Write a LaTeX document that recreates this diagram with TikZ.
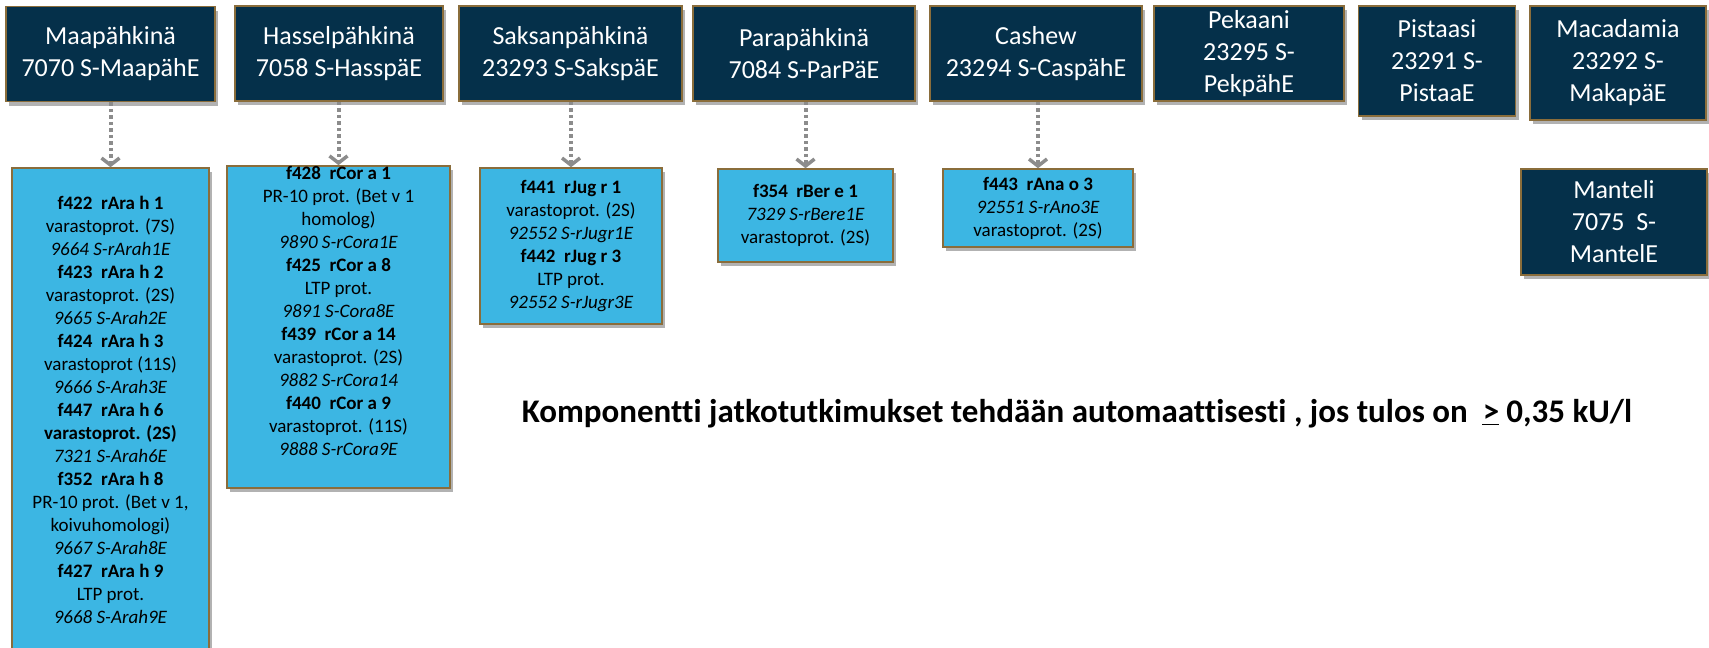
\documentclass[tikz,border=0pt]{standalone}
\usepackage{fontspec}
\setmainfont{Carlito}[Ligatures={NoCommon}]
\usetikzlibrary{arrows.meta,shadows}
\definecolor{navy}{HTML}{05304A}
\definecolor{goldb}{HTML}{8A6D3B}
\definecolor{skyb}{HTML}{3CB6E3}
\definecolor{arrowg}{HTML}{8C8C8C}
\begin{document}
\begin{tikzpicture}[x=1pt,y=-1pt,
  shad/.style={drop shadow={shadow xshift=3pt,shadow yshift=-4pt,fill=black,opacity=0.3}},
  topbox/.style={shad,draw=goldb,line width=1.5pt,fill=navy,text=white,align=center,inner sep=0pt,
     font=\fontsize{26}{32}\selectfont},
  bluebox/.style={shad,draw=goldb,line width=1.5pt,fill=skyb,text=black,align=center,inner sep=0pt,
     font=\fontsize{19}{23}\selectfont},
  conn/.style={draw=arrowg,line width=4pt,dash pattern=on 3.5pt off 3pt,
     -{Straight Barb[length=7pt,width=18pt,line width=3.5pt]}},
  note/.style={font=\fontsize{33}{38}\selectfont\bfseries,inner sep=0pt}]
\useasboundingbox (0,0) rectangle (1709,648);
% top boxes
\node[topbox,minimum width=209pt,minimum height=95pt] (t1) at (110.5,54) {Maapähkinä\\7070 S-MaapähE};
\node[topbox,minimum width=208pt,minimum height=95pt] (t2) at (339,53.5) {Hasselpähkinä\\7058 S-HasspäE};
\node[topbox,minimum width=223pt,minimum height=95pt] (t3) at (570.5,53.5) {Saksanpähkinä\\23293 S-SakspäE};
\node[topbox,minimum width=222pt,minimum height=95pt] (t4) at (804,53.5) {Parapähkinä\\7084 S-ParPäE};
\node[topbox,minimum width=212pt,minimum height=95pt] (t5) at (1036,53.5) {Cashew\\23294 S-CaspähE};
\node[topbox,minimum width=190pt,minimum height=95pt] (t6) at (1249,53.5) {Pekaani\\23295 S-\\PekpähE};
\node[topbox,minimum width=157pt,minimum height=110pt] (t7) at (1437,61) {Pistaasi\\23291 S-\\PistaaE};
\node[topbox,minimum width=176pt,minimum height=114pt] (t8) at (1618,63) {Macadamia\\23292 S-\\MakapäE};
\node[topbox,minimum width=186pt,minimum height=106pt] (t9) at (1614,222) {Manteli\\7075\ \ S-\\MantelE};
% blue boxes
\node[bluebox,minimum width=197pt,minimum height=484pt] (b1) at (110.5,410) {%
\textbf{f422\ \ rAra h 1}\\varastoprot. (7S)\\\textit{9664 S-rArah1E}\\
\textbf{f423\ \ rAra h 2}\\varastoprot. (2S)\\\textit{9665 S-Arah2E}\\
\textbf{f424\ \ rAra h 3}\\varastoprot (11S)\\\textit{9666 S-Arah3E}\\
\textbf{f447\ \ rAra h 6}\\\textbf{varastoprot. (2S)}\\\textit{7321 S-Arah6E}\\
\textbf{f352\ \ rAra h 8}\\PR-10 prot. (Bet v 1,\\koivuhomologi)\\\textit{9667 S-Arah8E}\\
\textbf{f427\ \ rAra h 9}\\LTP prot.\\\textit{9668 S-Arah9E}};
\node[bluebox,minimum width=223pt,minimum height=318pt] (b2) at (338.5,327) {%
\textbf{f428\ \ rCor a 1}\\PR-10 prot. (Bet v 1\\homolog)\\\textit{9890 S-rCora1E}\\
\textbf{f425\ \ rCor a 8}\\LTP prot.\\\textit{9891 S-Cora8E}\\
\textbf{f439\ \ rCor a 14}\\varastoprot. (2S)\\\textit{9882 S-rCora14}\\
\textbf{f440\ \ rCor a 9}\\varastoprot. (11S)\\\textit{9888 S-rCora9E}\\[10pt]};
\node[bluebox,minimum width=182pt,minimum height=156pt] (b3) at (571,246) {%
\textbf{f441\ \ rJug r 1}\\varastoprot. (2S)\\\textit{92552 S-rJugr1E}\\
\textbf{f442\ \ rJug r 3}\\LTP prot.\\\textit{92552 S-rJugr3E}};
\node[bluebox,minimum width=175pt,minimum height=93pt] (b4) at (805.5,215.5) {%
\textbf{f354\ \ rBer e 1}\\\textit{7329 S-rBere1E}\\varastoprot. (2S)};
\node[bluebox,minimum width=190pt,minimum height=78pt] (b5) at (1038,208) {%
\textbf{f443\ \ rAna o 3}\\\textit{92551 S-rAno3E}\\varastoprot. (2S)};
% connectors
\foreach \i in {1,...,5} {
  \draw[conn] (b\i.north |- t\i.south) -- (b\i.north);
}
% note
\node[note] (n1) at (1077,414) {Komponentti jatkotutkimukset tehdään automaattisesti , jos tulos on\ \ \underline{>} 0,35 kU/l};
\end{tikzpicture}
\end{document}
